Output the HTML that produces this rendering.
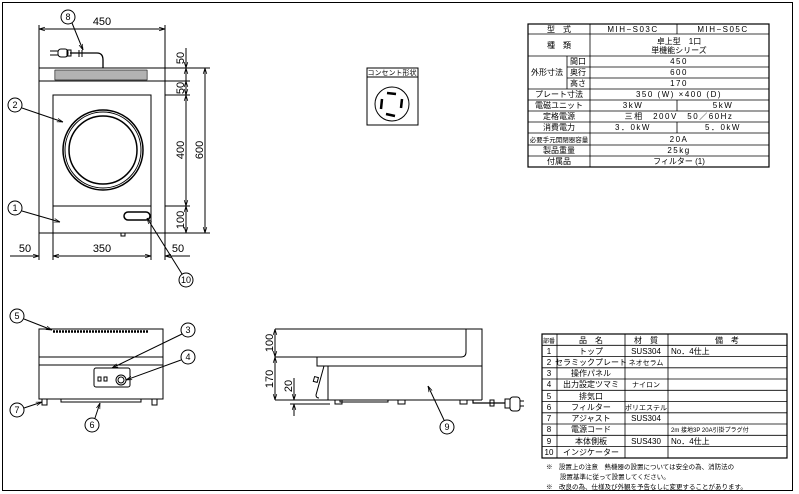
<!DOCTYPE html>
<html><head><meta charset="utf-8"><style>
html,body{margin:0;padding:0;background:#fff;}
svg{display:block;font-family:"Liberation Sans","Noto Sans CJK JP",sans-serif;}
</style></head><body>
<svg width="799" height="494" viewBox="0 0 799 494" xmlns="http://www.w3.org/2000/svg">
<defs>
<marker id="a" viewBox="0 0 10 10" refX="10" refY="5" markerWidth="6" markerHeight="6" orient="auto-start-reverse"><path d="M0,2 L10,5 L0,8" fill="none" stroke="#000" stroke-width="1.2"/></marker>
</defs>
<rect x="2.5" y="2.5" width="790" height="488" fill="none" stroke="#000" stroke-width="1"/>
<g stroke="#000" fill="none" stroke-width="1">
<!-- TOP VIEW -->
<rect x="39" y="68" width="126" height="165"/>
<line x1="39" y1="81" x2="165" y2="81"/>
<g stroke-width="0.6">
<path d="M55,70v10M57,70v10M59,70v10M61,70v10M63,70v10M65,70v10M67,70v10M69,70v10M71,70v10M73,70v10M75,70v10M77,70v10M79,70v10M81,70v10M83,70v10M85,70v10M87,70v10M89,70v10M91,70v10M93,70v10M95,70v10M97,70v10M99,70v10M101,70v10M103,70v10M105,70v10M107,70v10M109,70v10M111,70v10M113,70v10M115,70v10M117,70v10M119,70v10M121,70v10M123,70v10M125,70v10M127,70v10M129,70v10M131,70v10M133,70v10M135,70v10M137,70v10M139,70v10M141,70v10M143,70v10M145,70v10M147,70v10"/>
<rect x="55" y="70" width="92" height="10"/>
</g>
<rect x="53" y="95" width="98" height="111"/>
<circle cx="103" cy="150" r="40" stroke-width="1.5"/>
<circle cx="103" cy="150" r="38"/>
<circle cx="103" cy="150" r="34" stroke-width="1.5"/>
<rect x="124" y="212" width="26" height="8" rx="4" stroke-width="1.5"/>
<rect x="121" y="233" width="4" height="3"/>
<!-- cord -->
<path d="M70,53 H97 Q103,53 103,60 V68" stroke-width="1.3"/>
<rect x="58" y="49" width="10" height="8" rx="3"/>
<rect x="67" y="50" width="4" height="6"/>
<path d="M50,51h8M50,55h8"/>
<path d="M79,50v7M82,50v7"/>
<!-- dims top -->
<line x1="39" y1="29" x2="165" y2="29" marker-start="url(#a)" marker-end="url(#a)"/>
<line x1="39" y1="25" x2="39" y2="68"/><line x1="165" y1="25" x2="165" y2="68"/>
<line x1="165" y1="68" x2="210" y2="68"/><line x1="165" y1="81" x2="190" y2="81"/>
<line x1="165" y1="95" x2="190" y2="95"/><line x1="165" y1="206" x2="190" y2="206"/>
<line x1="165" y1="233" x2="210" y2="233"/>
<line x1="186" y1="48" x2="186" y2="68" marker-end="url(#a)"/>
<line x1="186" y1="68" x2="186" y2="81" marker-start="url(#a)"/>
<line x1="186" y1="81" x2="186" y2="95" marker-start="url(#a)" marker-end="url(#a)"/>
<line x1="186" y1="95" x2="186" y2="206" marker-start="url(#a)" marker-end="url(#a)"/>
<line x1="186" y1="206" x2="186" y2="233" marker-start="url(#a)" marker-end="url(#a)"/>
<line x1="205" y1="68" x2="205" y2="233" marker-start="url(#a)" marker-end="url(#a)"/>
<line x1="39" y1="233" x2="39" y2="260"/><line x1="53" y1="206" x2="53" y2="260"/>
<line x1="151" y1="206" x2="151" y2="260"/><line x1="165" y1="233" x2="165" y2="260"/>
<line x1="10" y1="256" x2="39" y2="256" marker-end="url(#a)"/>
<line x1="53" y1="256" x2="151" y2="256" marker-start="url(#a)" marker-end="url(#a)"/>
<line x1="165" y1="256" x2="190" y2="256" marker-start="url(#a)"/>
<!-- callouts top -->
<circle cx="68" cy="17" r="7"/><line x1="72" y1="23" x2="83" y2="50" marker-end="url(#a)"/>
<circle cx="15" cy="105" r="7"/><line x1="22" y1="108" x2="63" y2="122" marker-end="url(#a)"/>
<circle cx="15" cy="208" r="7"/><line x1="22" y1="211" x2="60" y2="222" marker-end="url(#a)"/>
<circle cx="186" cy="280" r="7"/><line x1="182" y1="274" x2="147" y2="218" marker-end="url(#a)"/>
<!-- outlet -->
<rect x="367" y="68" width="51" height="57"/>
<line x1="367" y1="77" x2="418" y2="77"/>
<circle cx="392" cy="104" r="17"/>
<g stroke-width="2.5"><path d="M387,93 L396,94M402,99 L401,108M395,116 L386,114M381,109 L382,99"/></g>
<!-- FRONT VIEW -->
<rect x="39" y="329" width="124" height="70"/>
<line x1="39" y1="357" x2="163" y2="357"/><line x1="39" y1="365" x2="163" y2="365"/>
<path stroke-width="2.5" stroke-dasharray="2,1" d="M53,331.5H148"/>
<rect x="94" y="368" width="36" height="19" rx="2"/>
<rect x="98" y="377" width="3" height="4"/><rect x="104" y="377" width="3" height="4"/>
<circle cx="121" cy="380" r="5"/><circle cx="121" cy="380" r="3"/>
<rect x="42" y="399" width="5" height="6"/><rect x="152" y="399" width="5" height="6"/>
<rect x="61" y="399" width="80" height="3"/>
<circle cx="17" cy="316" r="7"/><line x1="24" y1="319" x2="52" y2="330" marker-end="url(#a)"/>
<circle cx="188" cy="330" r="7"/><line x1="182" y1="334" x2="112" y2="368" marker-end="url(#a)"/>
<circle cx="188" cy="357" r="7"/><line x1="181" y1="360" x2="126" y2="380" marker-end="url(#a)"/>
<circle cx="17" cy="410" r="7"/><line x1="24" y1="408" x2="42" y2="402" marker-end="url(#a)"/>
<circle cx="92" cy="425" r="7"/><line x1="95" y1="418" x2="100" y2="403" marker-end="url(#a)"/>
<!-- SIDE VIEW -->
<path d="M275,329 H482 V366 H317 V357 H275"/>
<path d="M466,329 V352 Q466,357 461,357 H317"/>
<line x1="328" y1="366" x2="328" y2="400"/>
<line x1="482" y1="366" x2="482" y2="400"/>
<line x1="275" y1="400" x2="482" y2="400"/>
<path d="M324,366 L316,395 Q316,398 319,398"/>
<rect x="314" y="377" width="4" height="5" transform="rotate(15 316 379)"/>
<rect x="335" y="400" width="7" height="4"/><rect x="398" y="400" width="7" height="4"/><rect x="460" y="400" width="7" height="4"/>
<rect x="340" y="400" width="48" height="2"/>
<path d="M473,400 V403 H505" stroke-width="1.2"/>
<rect x="490" y="400" width="4" height="6"/>
<rect x="505" y="399" width="5" height="9"/>
<rect x="510" y="397" width="10" height="14" rx="3"/>
<path d="M520,401h4M520,406h4"/>
<line x1="275" y1="329" x2="275" y2="357" marker-start="url(#a)" marker-end="url(#a)"/>
<line x1="275" y1="357" x2="275" y2="400" marker-start="url(#a)" marker-end="url(#a)"/>
<line x1="294" y1="378" x2="294" y2="400" marker-end="url(#a)"/>
<line x1="294" y1="416" x2="294" y2="404" marker-end="url(#a)"/>
<line x1="290" y1="404" x2="330" y2="404"/>
<circle cx="447" cy="427" r="7"/><line x1="444" y1="420" x2="428" y2="386" marker-end="url(#a)"/>
</g>
<g font-size="11" fill="#000" text-anchor="middle">
<text x="102" y="25">450</text>
<text x="25" y="252">50</text><text x="102" y="252">350</text><text x="178" y="252">50</text>
<text transform="translate(184,58) rotate(-90)">50</text>
<text transform="translate(184,88) rotate(-90)">50</text>
<text transform="translate(184,150) rotate(-90)">400</text>
<text transform="translate(203,150) rotate(-90)">600</text>
<text transform="translate(184,220) rotate(-90)">100</text>
<text transform="translate(273,343) rotate(-90)">100</text>
<text transform="translate(273,379) rotate(-90)">170</text>
<text transform="translate(292,386) rotate(-90)">20</text>
</g>
<g font-size="9" fill="#000" text-anchor="middle">
<text x="68" y="20">8</text><text x="15" y="108">2</text><text x="15" y="211">1</text><text x="186" y="283">10</text>
<text x="17" y="319">5</text><text x="188" y="333">3</text><text x="188" y="360">4</text><text x="17" y="413">7</text><text x="92" y="428">6</text><text x="447" y="430">9</text>
<text x="392" y="75" font-size="7">コンセント形状</text>
</g>
<!-- SPEC TABLE -->
<g stroke="#000" fill="none" stroke-width="0.8">
<rect x="528" y="24" width="241" height="143" stroke-width="1.2"/>
<path d="M528,34H769M528,56H769M567,67H769M567,78H769M528,89H769M528,100H769M528,111H769M528,122H769M528,133H769M528,145H769M528,156H769"/>
<path d="M590,24V167M567,56V89M677,24V34M677,100V111M677,122V133"/>
</g>
<g font-size="8" fill="#000" text-anchor="middle">
<text x="559" y="32">型　式</text><text x="633" y="32" letter-spacing="1.5">MIH−S03C</text><text x="723" y="32" letter-spacing="1.5">MIH−S05C</text>
<text x="559" y="48">種　類</text><text x="679" y="44">卓上型　1口</text><text x="679" y="53">単機能シリーズ</text>
<text x="547" y="75">外形寸法</text>
<text x="578" y="64">間口</text><text x="578" y="75">奥行</text><text x="578" y="86">高さ</text>
<g letter-spacing="1.5">
<text x="679" y="64">450</text><text x="679" y="75">600</text><text x="679" y="86">170</text>
<text x="679" y="97">350 (W) ×400 (D)</text>
<text x="633" y="108">3kW</text><text x="723" y="108">5kW</text>
<text x="679" y="119">三相　200V　50／60Hz</text>
<text x="633" y="130">3．0kW</text><text x="723" y="130">5．0kW</text>
<text x="679" y="142">20A</text>
<text x="679" y="153">25kg</text>
</g>
<text x="559" y="97">プレート寸法</text>
<text x="559" y="108">電磁ユニット</text>
<text x="559" y="119">定格電源</text>
<text x="559" y="130">消費電力</text>
<text x="559" y="142" font-size="6.5">必要手元開閉器容量</text>
<text x="559" y="153">製品重量</text>
<text x="559" y="164">付属品</text><text x="679" y="164">フィルター (1)</text>
</g>
<!-- PARTS TABLE -->
<g stroke="#000" fill="none" stroke-width="0.8">
<rect x="542" y="334" width="245" height="124" stroke-width="1.2"/>
<path d="M542,345.3H787M542,356.5H787M542,367.8H787M542,379H787M542,390.3H787M542,401.5H787M542,412.8H787M542,424H787M542,435.3H787M542,446.5H787"/>
<path d="M557,334V458M625,334V458M668,334V458"/>
</g>
<g font-size="8" fill="#000" text-anchor="middle">
<text x="549" y="343" font-size="6">部番</text><text x="591" y="343">品　名</text><text x="646" y="343">材　質</text><text x="727" y="343">備　考</text>
<text x="549" y="354">1</text><text x="591" y="354">トップ</text><text x="646" y="354">SUS304</text><text x="671" y="354" text-anchor="start">No．4仕上</text>
<text x="549" y="365">2</text><text x="591" y="365">セラミックプレート</text><text x="646" y="365" font-size="7">ネオセラム</text>
<text x="549" y="376">3</text><text x="591" y="376">操作パネル</text>
<text x="549" y="387">4</text><text x="591" y="387">出力設定ツマミ</text><text x="646" y="387" font-size="7">ナイロン</text>
<text x="549" y="399">5</text><text x="591" y="399">排気口</text>
<text x="549" y="410">6</text><text x="591" y="410">フィルター</text><text x="646" y="410" font-size="7">ポリエステル</text>
<text x="549" y="421">7</text><text x="591" y="421">アジャスト</text><text x="646" y="421">SUS304</text>
<text x="549" y="432">8</text><text x="591" y="432">電源コード</text><text x="671" y="432" text-anchor="start" font-size="6">2m 接地3P 20A引掛プラグ付</text>
<text x="549" y="444">9</text><text x="591" y="444">本体側板</text><text x="646" y="444">SUS430</text><text x="671" y="444" text-anchor="start">No．4仕上</text>
<text x="549" y="455">10</text><text x="591" y="455">インジケーター</text>
</g>
<g font-size="6.5" fill="#000">
<text x="546" y="469">※　設置上の注意　熱機器の設置については安全の為、消防法の</text>
<text x="560" y="479">設置基準に従って設置してください。</text>
<text x="546" y="489">※　改良の為、仕様及び外観を予告なしに変更することがあります。</text>
</g>
</svg>
</body></html>
